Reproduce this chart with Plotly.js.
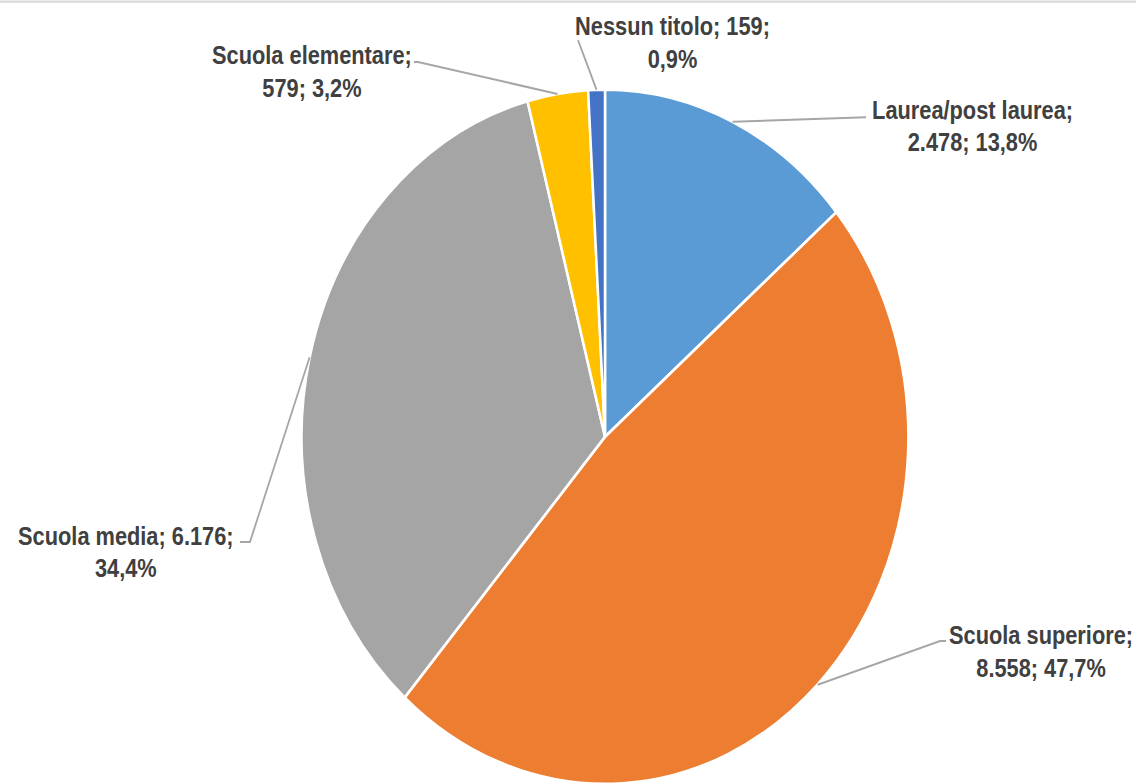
<!DOCTYPE html>
<html>
<head>
<meta charset="utf-8">
<script src="https://cdn.plot.ly/plotly-3.0.1.min.js"></script>
<style>
  html, body { margin: 0; padding: 0; background: #ffffff; overflow: hidden; }
  #wrap { width: 1137px; height: 784px; overflow: hidden; position: relative; }
  #chart { width: 1137px; height: 685px; transform: scaleY(1.14453); transform-origin: 0 0; }
</style>
</head>
<body>
<div id="wrap"><div id="chart"></div></div>
<script>
// ---- data ----
const categories = ["Laurea/post laurea", "Scuola superiore", "Scuola media", "Scuola elementare", "Nessun titolo"];
const values = [2478, 8558, 6176, 579, 159];
const colors = ["#5B9BD5", "#ED7D31", "#A5A5A5", "#FFC000", "#4472C4"];

// ---- layout config (pixels in the unscaled figure) ----
const W = 1137, H = 685;
const cx = 605, cy = 381.8, R = 303.5;
// label block centres and leader elbow points, per category
const labelPos = [
  {x: 972, y: 110.5, elbow: [[866, 102.5]]},
  {x: 1041, y: 569.7, elbow: [[940, 560], [946, 560]]},
  {x: 126, y: 482.3, elbow: [[250, 473.5], [240, 473.5]]},
  {x: 312, y: 62.9, elbow: [[418, 54.2], [414, 54.2]]},
  {x: 672, y: 37.6, elbow: [[578, 35]]}
];
const labelBreak = [
  (c, v, p) => c + ";<br>" + v + "; " + p,
  (c, v, p) => c + ";<br>" + v + "; " + p,
  (c, v, p) => c + "; " + v + ";<br>" + p,
  (c, v, p) => c + ";<br>" + v + "; " + p,
  (c, v, p) => c + "; " + v + ";<br>" + p
];

function fmtInt(n) {
  return String(n).replace(/\B(?=(\d{3})+(?!\d))/g, ".");
}
function fmtPct(f) {
  return (f * 100).toFixed(1).replace(".", ",") + "%";
}

const total = values.reduce((a, b) => a + b, 0);
const px = x => x / W;
const py = y => 1 - y / H;

const shapes = [];
const annotations = [];
let cum = 0;
values.forEach((v, i) => {
  const mid = (cum + v / 2) / total;
  cum += v;
  const th = 2 * Math.PI * mid;
  const ex = cx + R * Math.sin(th);
  const ey = cy - R * Math.cos(th);
  let path = "M" + px(ex) + "," + py(ey);
  labelPos[i].elbow.forEach(p => { path += " L" + px(p[0]) + "," + py(p[1]); });
  shapes.push({
    type: "path", xref: "paper", yref: "paper", path: path,
    line: {color: "#A6A6A6", width: 1.8}
  });
  annotations.push({
    xref: "paper", yref: "paper",
    x: px(labelPos[i].x), y: py(labelPos[i].y),
    xanchor: "center", yanchor: "middle",
    showarrow: false, align: "center",
    text: labelBreak[i](categories[i], fmtInt(v), fmtPct(v / total)),
    font: {family: "Liberation Sans, Arial, sans-serif", size: 21.8, color: "#404040", weight: "bold"}
  });
});

// chart frame top line
shapes.push({
  type: "line", xref: "paper", yref: "paper",
  x0: 0, x1: 1136 / W, y0: py(1.4), y1: py(1.4),
  line: {color: "#D9D9D9", width: 2}
});

const trace = {
  type: "pie",
  labels: categories,
  values: values,
  sort: false,
  direction: "clockwise",
  rotation: 0,
  textinfo: "none",
  hoverinfo: "skip",
  marker: {colors: colors, line: {color: "#FFFFFF", width: 2.5}},
  domain: {x: [(cx - R) / W, (cx + R) / W], y: [Math.max(0, py(cy + R)), py(cy - R)]}
};

const layout = {
  width: W, height: H,
  margin: {l: 0, r: 0, t: 0, b: 0},
  paper_bgcolor: "#FFFFFF",
  showlegend: false,
  shapes: shapes,
  annotations: annotations
};

Plotly.newPlot("chart", [trace], layout, {staticPlot: true, displayModeBar: false});
</script>
</body>
</html>
